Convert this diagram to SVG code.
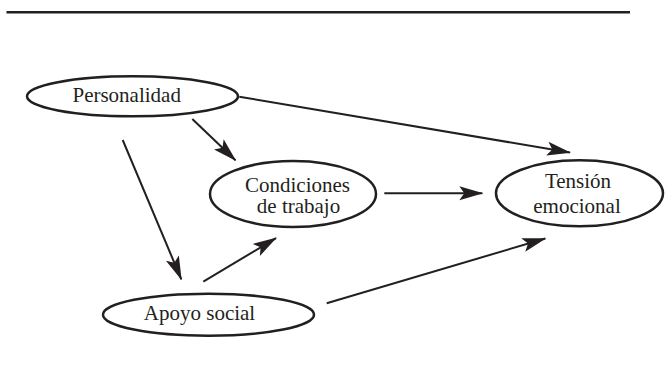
<svg xmlns="http://www.w3.org/2000/svg" width="672" height="365" viewBox="0 0 672 365">
  <defs>
    <style>
      .node { fill: #ffffff; stroke: #231f20; stroke-width: 2.5; }
      .label { font-family: "Liberation Serif", "Times New Roman", serif; font-size: 21px; fill: #231f20; text-anchor: middle; }
      .edge { stroke: #231f20; stroke-width: 2; fill: none; marker-end: url(#arrow); }
    </style>
    <marker id="arrow" viewBox="-24 -8 26 16" refX="0" refY="0" markerWidth="26" markerHeight="16" markerUnits="userSpaceOnUse" orient="auto">
      <path d="M1,0 L-23,-7 L-18,0 L-23,7 Z" fill="#231f20"/>
    </marker>
  </defs>
  <rect width="672" height="365" fill="#ffffff"/>
  <line x1="6.5" y1="12.2" x2="630" y2="12.2" stroke="#231f20" stroke-width="2.4"/>
  <g id="connectors">
    <line class="edge" x1="239.3" y1="96.7" x2="570" y2="152.5"/>
    <line class="edge" x1="192.3" y1="119" x2="235.5" y2="160.2"/>
    <line class="edge" x1="122.7" y1="140" x2="181.3" y2="279.3"/>
    <line class="edge" x1="203.3" y1="281.7" x2="276" y2="238.1"/>
    <line class="edge" x1="384.3" y1="193.2" x2="482.3" y2="193.2"/>
    <line class="edge" x1="326.7" y1="303.3" x2="545.3" y2="238.5"/>
  </g>
  <g id="personalidad">
    <ellipse class="node" cx="132.5" cy="96.3" rx="105.5" ry="20"/>
    <text class="label" x="126.7" y="102.3">Personalidad</text>
  </g>
  <g id="condiciones">
    <ellipse class="node" cx="293" cy="194" rx="83" ry="33"/>
    <text class="label" x="297.5" y="191.7">Condiciones</text>
    <text class="label" x="298.5" y="213.3">de trabajo</text>
  </g>
  <g id="tension">
    <ellipse class="node" cx="579.5" cy="193.3" rx="83.5" ry="33"/>
    <text class="label" x="578" y="188.3">Tensión</text>
    <text class="label" x="577" y="213.3">emocional</text>
  </g>
  <g id="apoyo">
    <ellipse class="node" cx="208.5" cy="314.7" rx="105.5" ry="21"/>
    <text class="label" x="199.5" y="320">Apoyo social</text>
  </g>
</svg>
